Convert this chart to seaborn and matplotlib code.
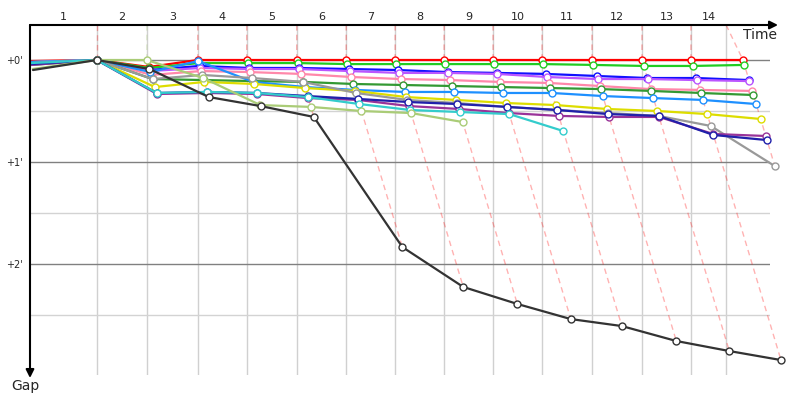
import numpy as np
import pandas as pd
import matplotlib
matplotlib.use("Agg")
import matplotlib.pyplot as plt
import seaborn as sns

sns.set_theme(style="white")
plt.rcParams['font.family'] = ['DejaVu Sans']

nan = np.nan
# ---------------- data ----------------
lap_labels = [str(i) for i in range(1, 15)]
# lap boundary ticks on the time axis (s)
lap_ticks = [0, 131, 229, 329, 425, 523, 620, 716, 812, 908, 1004, 1102, 1200, 1296, 1365]
# leader elapsed time at each crossing (s)
leader_times = [0, 131, 229, 329, 425, 523, 620, 716, 812, 908, 1004, 1102, 1200, 1296, 1398]

# gaps to leader at each crossing (s)
red = [0.6, 0, 4.1, 0, 0, 0, 0, 0, 0, 0, 0, 0, 0, 0, 0]
green = [1.2, 0, 4.7, 1.8, 1.8, 1.8, 2.4, 2.4, 2.4, 2.4, 2.4, 2.9, 3.5, 3.5, 2.9]
blue = [1.8, 0, 5.9, 3.5, 4.7, 4.7, 5.3, 5.9, 7.1, 7.6, 8.2, 9.4, 10.6, 10.6, 11.8]
violet = [1.2, 0, 6.5, 4.7, 5.3, 5.3, 6.5, 7.6, 7.6, 8.2, 10.0, 11.2, 11.2, 11.8, 12.4]
pink = [1.2, 0, 8.8, 6.5, 7.1, 8.2, 10.0, 11.2, 11.8, 12.9, 13.5, 15.3, 17.1, 17.6, 18.2]
darkgreen = [2.9, 0, 11.2, 11.8, 12.4, 12.9, 14.1, 14.7, 15.3, 15.9, 16.5, 17.1, 18.2, 19.4, 20.6]
skyblue = [1.2, 0, 7.1, 0.6, 12.9, 15.9, 17.6, 18.8, 18.8, 19.4, 19.4, 21.2, 22.4, 23.5, 25.9]
yellow = [2.4, 0, 15.9, 12.9, 14.1, 16.5, 18.2, 21.8, 23.5, 25.3, 26.5, 28.8, 30.0, 31.8, 34.7]
gray = [1.8, 0, 11.2, 8.8, 10.6, 12.9, 19.4, 23.5, 25.3, 27.6, 29.4, 31.2, 32.9, 38.8, 62.4]
purple = [2.9, 0, 20.0, 19.4, 20.0, 22.4, 23.5, 27.1, 28.8, 31.2, 32.9, 33.5, 33.5, 43.5, 44.7]
darkblue = [2.4, 0, 19.4, 18.8, 19.4, 21.2, 22.9, 24.7, 25.9, 27.6, 29.4, 31.8, 32.9, 44.1, 47.1]
cyan = [1.8, 0, 19.4, 18.8, 19.4, 21.8, 25.9, 29.4, 30.6, 31.8, 41.8, nan, nan, nan, nan]
lightgreen = [5.3, 0, 0, 10.6, 26.5, 27.6, 30.0, 31.2, 36.5, nan, nan, nan, nan, nan, nan]
black = [5.9, 0, 5.3, 21.8, 27.1, 33.5, 110.0, 133.5, 143.5, 152.4, 156.5, 165.3, 171.2, 176.5, nan]

riders = ["red", "green", "blue", "violet", "pink", "darkgreen", "skyblue", "yellow",
          "gray", "purple", "darkblue", "cyan", "lightgreen", "black"]
gap_series = [red, green, blue, violet, pink, darkgreen, skyblue, yellow,
              gray, purple, darkblue, cyan, lightgreen, black]
colors = ["#ff0000", "#22cc22", "#1010ff", "#bb55ff", "#ff88aa", "#339933", "#1e90ff",
          "#dddd00", "#999999", "#993399", "#2020aa", "#33cccc", "#aacc77", "#333333"]

# ---------------- figure ----------------
W, H = 800, 400
fig = plt.figure(figsize=(8, 4), dpi=100)
L, R, T, B = 30, 770, 25, 375
ax = fig.add_axes([L / W, 1 - B / H, (R - L) / W, (B - T) / H])

px_per_s_y = 1.7
y_top = (T - 60) / px_per_s_y
y_bot = (B - 60) / px_per_s_y
x_right = 1451
ax.set_xlim(0, x_right)
ax.set_ylim(y_bot, y_top)

for s in ax.spines.values():
    s.set_visible(False)

ax.set_axisbelow(True)
ax.set_xticks(lap_ticks[1:])
ax.tick_params(axis='x', length=0, labelbottom=False)
ax.grid(axis='x', color='#d0d0d0', lw=1)
ax.set_yticks([0, 60, 120])
ax.set_yticklabels(["+0'", "+1'", "+2'"], fontsize=7)
ax.set_yticks([30, 90, 150], minor=True)
ax.tick_params(axis='y', which='both', length=0, pad=5.5)
ax.grid(axis='y', which='major', color='#808080', lw=1)
ax.grid(axis='y', which='minor', color='#d3d3d3', lw=1)

# isochrone dashed lines
for c in range(1, len(leader_times)):
    pts = []
    for g, col in zip(gap_series, colors):
        if not np.isnan(g[c]):
            pts.append((g[c], leader_times[c] + g[c], col))
    pts.sort(key=lambda p: p[0])
    xs = [lap_ticks[c]] + [p[1] for p in pts]
    ys = [y_top] + [p[0] for p in pts]
    ax.plot(xs, ys, ls=(0, (4, 3)), lw=1, color=pts[0][2], alpha=0.3, zorder=1.5,
            clip_on=False)

# rider lines
for i, (name, g, col) in enumerate(zip(riders, gap_series, colors)):
    df = pd.DataFrame({"time": [t + v for t, v in zip(leader_times, g)], "gap": g}).dropna()
    n = len(df)
    sns.lineplot(data=df, x="time", y="gap", sort=False, estimator=None, ax=ax,
                 color=col, lw=1.6, marker='o', markersize=5, markerfacecolor='white',
                 markeredgecolor=col, markeredgewidth=1.0, markevery=list(range(1, n)),
                 zorder=2 + i * 0.01, clip_on=False)

ax.set_xlabel("")
ax.set_ylabel("")

# lap labels above the time axis
for k, lab in enumerate(lap_labels):
    xc = (lap_ticks[k] + lap_ticks[k + 1]) / 2
    ax.text(xc, 1 + 8 / (B - T), lab, transform=ax.get_xaxis_transform(),
            ha='center', va='center', fontsize=8)

# axes arrows
ax.annotate("", xy=(1 + 8 / (R - L), 1), xytext=(0, 1), xycoords='axes fraction',
            arrowprops=dict(arrowstyle='-|>', color='black', lw=1.5, mutation_scale=12,
                            shrinkA=0, shrinkB=0), annotation_clip=False)
ax.annotate("", xy=(0, -3 / (B - T)), xytext=(0, 1), xycoords='axes fraction',
            arrowprops=dict(arrowstyle='-|>', color='black', lw=1.5, mutation_scale=12,
                            shrinkA=0, shrinkB=0), annotation_clip=False)

fig.text(760 / W, 1 - 35 / H, "Time", ha='center', va='center', fontsize=10)
fig.text(25 / W, 1 - 386 / H, "Gap", ha='center', va='center', fontsize=10)

fig.savefig("out.png", dpi=100)
